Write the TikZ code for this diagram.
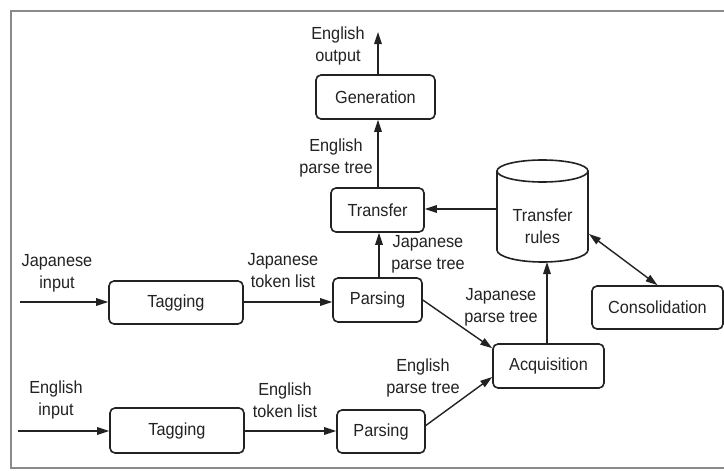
\documentclass[tikz,border=0pt]{standalone}
\usepackage{fontspec}
\setmainfont[FakeStretch=0.93]{Liberation Sans}
\usetikzlibrary{arrows.meta,calc}
\definecolor{ink}{HTML}{222222}
\definecolor{frame}{HTML}{8A8A8A}
\begin{document}
\begin{tikzpicture}[x=1pt,y=-1pt,
  font=\fontsize{17.5}{22}\selectfont,
  box/.style={draw=ink,line width=1.6pt,rounded corners=5pt,fill=white,text=ink,inner sep=0pt},
  lbl/.style={text=ink,align=center,inner sep=0pt},
  arr/.style={draw=ink,line width=1.4pt,-{Triangle[length=12pt,width=7.5pt]}},
  darr/.style={draw=ink,line width=1.4pt,{Triangle[length=12pt,width=7.5pt]}-{Triangle[length=12pt,width=7.5pt]}}]
\useasboundingbox (0,0) rectangle (724,471);
\fill[white] (0,0) rectangle (724,471);
\draw[frame,line width=1.5pt] (730,11) -- (11,11) -- (11,468) -- (730,468);

% boxes
\node[box,minimum width=119pt,minimum height=44pt] (gen) at (375.5,97) {Generation};
\node[box,minimum width=93pt,minimum height=44pt] (trans) at (377.5,210) {Transfer};
\node[box,minimum width=89pt,minimum height=44pt] (jparse) at (377.5,300) {Parsing};
\node[box,minimum width=88pt,minimum height=43pt] (eparse) at (381,431.5) {Parsing};
\node[box,minimum width=134pt,minimum height=43pt] (jtag) at (176,302.5) {Tagging};
\node[box,minimum width=134pt,minimum height=45pt] (etag) at (177,430.5) {Tagging};
\node[box,minimum width=111pt,minimum height=44pt] (acq) at (548.5,366) {Acquisition};
\node[box,minimum width=131pt,minimum height=43pt] (cons) at (657.5,307.5) {Consolidation};

% cylinder
\filldraw[fill=white,draw=ink,line width=1.6pt] (497,171) -- (497,250) arc[start angle=180,end angle=0,x radius=45.5pt,y radius=-12pt] -- (588,171);
\draw[ink,line width=1.6pt] (542.5,171) ellipse[x radius=45.5pt,y radius=11pt];
\node[lbl] (rules) at (542.5,226) {Transfer\\rules};
\coordinate (rulesW) at (497,209);
\coordinate (rulesS) at (547,262);
\coordinate (rulesE) at (589,234);

% free ends
\coordinate (outc) at (378,32);
\coordinate (jin) at (20,302);
\coordinate (ein) at (18,431);

% connectors
\draw[arr] (outc |- gen.north) -- (outc);
\draw[arr] (outc |- trans.north) -- (outc |- gen.south);
\draw[arr] (379,0 |- jparse.north) -- (379,0 |- trans.south);
\draw[arr] (rulesW) -- (rulesW -| trans.east);
\draw[arr] (jin) -- (jin -| jtag.west);
\draw[arr] (jtag.east |- jin) -- (jin -| jparse.west);
\draw[arr] (ein) -- (ein -| etag.west);
\draw[arr] (etag.east |- ein) -- (ein -| eparse.west);
\draw[arr] (jparse.east) -- ([yshift=-5pt]acq.north west);
\draw[arr] ([yshift=6pt]eparse.east) -- ([yshift=-11pt]acq.west);
\draw[arr] (rulesS |- acq.north) -- (rulesS);
\draw[darr] (rulesE) -- (cons.north);

% labels
\node[lbl] at (338,46) {English\\output};
\node[lbl] at (336,158) {English\\parse tree};
\node[lbl] at (428,254) {Japanese\\parse tree};
\node[lbl] at (57,273) {Japanese\\input};
\node[lbl] at (283,271) {Japanese\\token list};
\node[lbl] at (56,400) {English\\input};
\node[lbl] at (285,400) {English\\token list};
\node[lbl] at (423,378) {English\\parse tree};
\node[lbl] at (501,307) {Japanese\\parse tree};
\end{tikzpicture}
\end{document}
